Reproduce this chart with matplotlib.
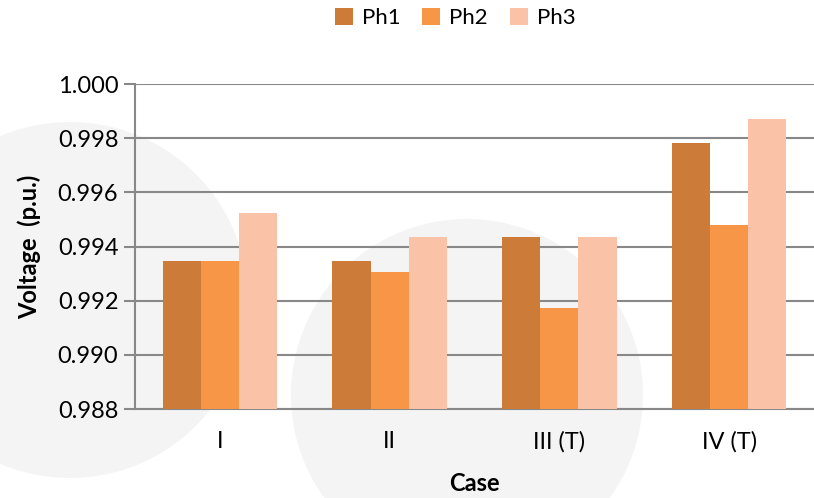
import numpy as np
import matplotlib.pyplot as plt
from matplotlib.patches import Circle

# ============== data ==============
cases = ["I", "II", "III (T)", "IV (T)"]
ph1 = [0.99348, 0.99348, 0.99435, 0.99782]
ph2 = [0.99348, 0.99305, 0.99174, 0.99478]
ph3 = [0.99522, 0.99435, 0.99435, 0.99870]
series_names = ["Ph1", "Ph2", "Ph3"]
colors = ["#CD7B38", "#F79646", "#FAC3A8"]
# ==================================

plt.rcParams['font.family'] = ['Lato', 'DejaVu Sans']

W, H = 814, 498
fig = plt.figure(figsize=(W / 100, H / 100), dpi=100)

# faint background circles, in pixel coords
bg = fig.add_axes([0, 0, 1, 1], zorder=-1)
bg.set_xlim(0, W)
bg.set_ylim(H, 0)
bg.axis('off')
for cx, cy, r in [(70, 300, 178), (467, 395, 176)]:
    bg.add_patch(Circle((cx, cy), r, facecolor="#F4F4F4", edgecolor="none"))

ax = fig.add_axes([135 / W, 1 - 409 / H, (814 - 135) / W, (409 - 84) / H], zorder=1)
ax.set_facecolor("none")

x = np.arange(len(cases))
bw = 0.225
for i, (vals, name, c) in enumerate(zip([ph1, ph2, ph3], series_names, colors)):
    ax.bar(x + (i - 1) * bw, np.array(vals) - 0.988, bw, bottom=0.988,
           color=c, label=name, zorder=3)

ax.set_xlim(-0.5, len(cases) - 0.5)
ax.set_ylim(0.988, 1.000)
ax.set_yticks(np.arange(0.988, 1.0001, 0.002))
ax.yaxis.set_major_formatter(plt.FormatStrFormatter('%.3f'))
ax.set_xticks(x)
ax.set_xticklabels(cases)
ax.grid(axis='y', color="#888888", linewidth=1.5, zorder=1)
ax.set_axisbelow(True)

for s in ['top', 'right']:
    ax.spines[s].set_visible(False)
for s in ['left', 'bottom']:
    ax.spines[s].set_color("#888888")
    ax.spines[s].set_linewidth(1.5)

ax.tick_params(axis='y', labelsize=17, length=8, width=1.5, color="#888888", pad=4)
ax.tick_params(axis='x', labelsize=17, length=0, pad=16)

ax.set_ylabel("Voltage  (p.u.)", fontsize=17, fontweight='bold', labelpad=12)
ax.set_xlabel("Case", fontsize=17, fontweight='bold', labelpad=14)

fig.legend(loc='center', bbox_to_anchor=(455 / W, 1 - 18 / H), ncol=3, frameon=False,
           fontsize=16, handlelength=0.8, handleheight=0.8, handletextpad=0.4,
           columnspacing=1.0)

fig.savefig("out.png", dpi=100)
